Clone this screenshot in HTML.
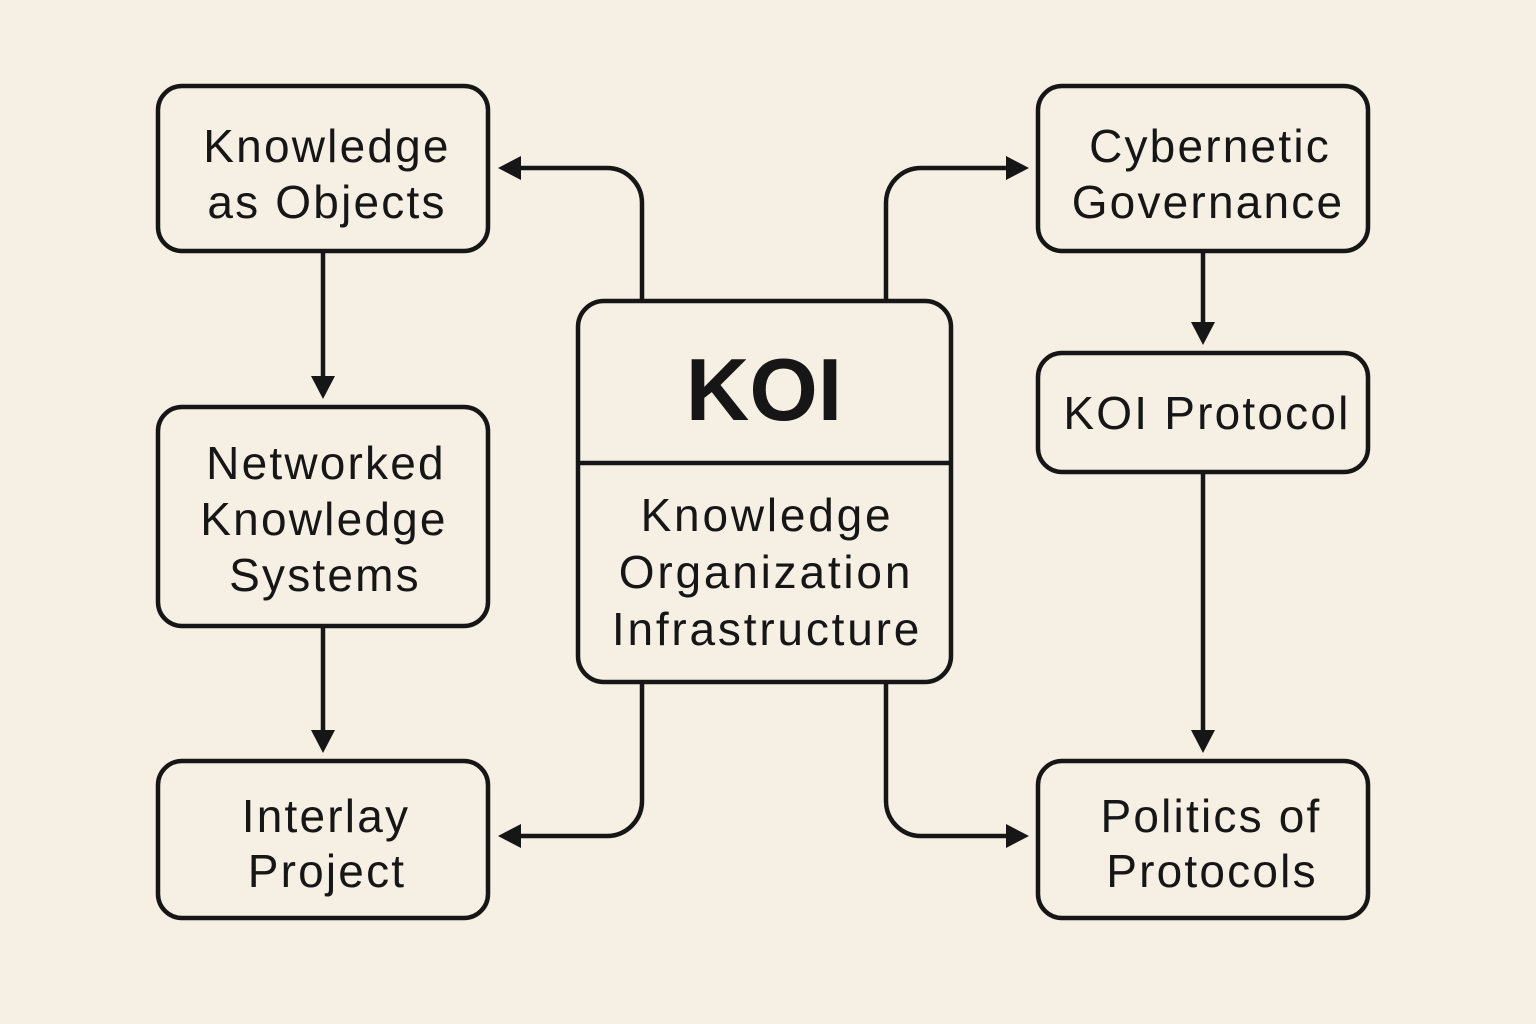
<!DOCTYPE html>
<html><head><meta charset="utf-8"><style>
html,body{margin:0;padding:0;background:#f6efe3;}
svg{display:block}
text{font-family:"Liberation Sans",sans-serif;fill:#161616;text-anchor:middle;}
</style></head><body>
<svg width="1536" height="1024" viewBox="0 0 1536 1024" xmlns="http://www.w3.org/2000/svg">
<rect width="1536" height="1024" fill="#f6efe3"/>
<g fill="none" stroke="#161616" stroke-width="4.5">
<rect x="158" y="86" width="330" height="165" rx="24"/>
<rect x="158" y="407" width="330" height="219" rx="24"/>
<rect x="158" y="761" width="330" height="157" rx="24"/>
<rect x="1038" y="86" width="330" height="165" rx="24"/>
<rect x="1038" y="353" width="330" height="119" rx="24"/>
<rect x="1038" y="761" width="330" height="157" rx="24"/>
<rect x="578" y="301" width="373" height="381" rx="26"/>
<line x1="578" y1="463" x2="951" y2="463"/>
<path d="M642 301 V203 A35 35 0 0 0 607 168 H516"/>
<path d="M886 301 V203 A35 35 0 0 1 921 168 H1010"/>
<path d="M642 682 V801 A35 35 0 0 1 607 836 H516"/>
<path d="M886 682 V801 A35 35 0 0 0 921 836 H1010"/>
<line x1="323" y1="251" x2="323" y2="380"/>
<line x1="323" y1="626" x2="323" y2="734"/>
<line x1="1203" y1="251" x2="1203" y2="326"/>
<line x1="1203" y1="472" x2="1203" y2="734"/>
</g>
<g fill="#161616">
<polygon points="498,168 521,156 521,180"/>
<polygon points="1029,168 1006,156 1006,180"/>
<polygon points="498,836 521,824 521,848"/>
<polygon points="1029,836 1006,824 1006,848"/>
<polygon points="323,399 311,376 335,376"/>
<polygon points="323,753 311,730 335,730"/>
<polygon points="1203,345 1191,322 1215,322"/>
<polygon points="1203,753 1191,730 1215,730"/>
</g>
<g font-size="46" letter-spacing="2.2">
<text x="327" y="162">Knowledge</text>
<text x="327" y="218">as Objects</text>
<text x="326" y="479">Networked</text>
<text x="324" y="535">Knowledge</text>
<text x="325" y="591">Systems</text>
<text x="326" y="832">Interlay</text>
<text x="327" y="887">Project</text>
<text x="1210" y="162">Cybernetic</text>
<text x="1208" y="218">Governance</text>
<text x="1207" y="429">KOI Protocol</text>
<text x="1211" y="832">Politics of</text>
<text x="1212" y="887">Protocols</text>
</g>
<g font-size="46" letter-spacing="2.8">
<text x="767" y="531">Knowledge</text>
<text x="766" y="588">Organization</text>
<text x="767" y="645">Infrastructure</text>
</g>
<text x="764" y="420" font-size="88" font-weight="bold">KOI</text>
</svg>
</body></html>
